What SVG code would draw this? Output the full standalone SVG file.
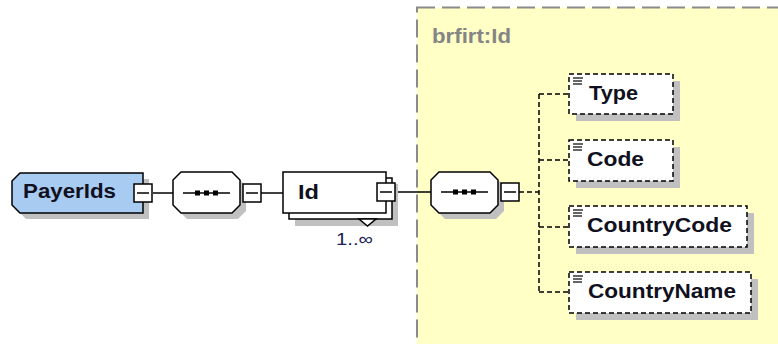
<svg xmlns="http://www.w3.org/2000/svg" width="778" height="344" viewBox="0 0 778 344">
<style>
.shadow{fill:#c0c0c0;stroke:none}
.solid{fill:#fff;stroke:#000;stroke-width:1.5}
.elem{fill:#fff;stroke:#000;stroke-width:1.5;stroke-dasharray:5 3}
.conn{fill:none;stroke:#000;stroke-width:1.5}
.dconn{fill:none;stroke:#000;stroke-width:1.5;stroke-dasharray:5 3}
.lbl{font-family:"Liberation Sans",Arial,sans-serif;font-weight:bold;font-size:20px;fill:#101020}
.icon{stroke:#000;stroke-width:1.2}
</style>
<defs>
<g id="minus"><rect x="0" y="0" width="18" height="18" fill="#fff" stroke="#000" stroke-width="1.5"/><line x1="3" y1="9" x2="15" y2="9" stroke="#000" stroke-width="1.5"/></g>
<g id="seqdots"><line x1="0" y1="0" x2="47" y2="0" stroke="#000" stroke-width="1.5"/><rect x="12" y="-2.5" width="5" height="5" fill="#000"/><rect x="21" y="-2.5" width="5" height="5" fill="#000"/><rect x="30" y="-2.5" width="5" height="5" fill="#000"/></g>
<g id="txticon"><line x1="0" y1="0" x2="10" y2="0" class="icon"/><line x1="0" y1="3" x2="9" y2="3" class="icon"/><line x1="0" y1="6" x2="9" y2="6" class="icon"/></g>
</defs>
<rect width="778" height="344" fill="#fff"/>
<g id="type-box">
<rect x="417" y="7.5" width="380" height="360" fill="#ffffc6" stroke="#8a8a8a" stroke-width="2" stroke-dasharray="18 7"/>
<text x="432" y="43" font-family="'Liberation Sans',Arial,sans-serif" font-weight="bold" font-size="20" fill="#858585" textLength="79" lengthAdjust="spacingAndGlyphs">brfirt:Id</text>
</g>
<g id="connectors">
<line x1="153" y1="193" x2="173" y2="193" class="conn"/>
<line x1="261" y1="193" x2="283" y2="193" class="conn"/>
<line x1="395" y1="192" x2="431" y2="192" class="conn"/>
<line x1="519" y1="192" x2="539" y2="192" class="dconn"/>
<line x1="539" y1="94" x2="539" y2="292" class="dconn"/>
<line x1="539" y1="94" x2="569" y2="94" class="dconn"/>
<line x1="539" y1="160" x2="569" y2="160" class="dconn"/>
<line x1="539" y1="227" x2="569" y2="227" class="dconn"/>
<line x1="539" y1="292" x2="569" y2="292" class="dconn"/>
</g>
<g id="PayerIds">
<polygon points="26,179 149,179 149,219 26,219 18,211 18,187" class="shadow"/>
<polygon points="20,173 143,173 143,213 20,213 12,205 12,181" fill="#a8cbf2" stroke="#000" stroke-width="1.5"/>
<text x="23" y="198" class="lbl" textLength="93" lengthAdjust="spacingAndGlyphs">PayerIds</text>
<use href="#minus" x="134" y="184"/>
</g>
<g id="sequence1">
<polygon points="187,178 238,178 246,186 246,211 238,219 187,219 179,211 179,186" class="shadow"/>
<polygon points="181,172 232,172 240,180 240,205 232,213 181,213 173,205 173,180" class="solid"/>
<use href="#seqdots" x="183" y="193"/>
<use href="#minus" x="243" y="184"/>
</g>
<g id="Id">
<rect x="295" y="184" width="103" height="42" class="shadow"/>
<rect x="289" y="178" width="103" height="41" class="solid"/>
<rect x="283" y="172" width="103" height="41" class="solid"/>
<polygon points="359,219 376,219 367.5,226" class="solid"/>
<text x="298" y="199" class="lbl" textLength="21" lengthAdjust="spacingAndGlyphs">Id</text>
<use href="#minus" x="377" y="183"/>
<text x="336" y="245" font-family="'Liberation Sans',Arial,sans-serif" font-size="17" fill="#202058" textLength="37" lengthAdjust="spacingAndGlyphs">1..∞</text>
</g>
<g id="sequence2">
<polygon points="445,178 496,178 504,186 504,211 496,219 445,219 437,211 437,186" class="shadow"/>
<polygon points="439,172 490,172 498,180 498,205 490,213 439,213 431,205 431,180" class="solid"/>
<use href="#seqdots" x="441" y="192"/>
<use href="#minus" x="501" y="183"/>
</g>
<g id="Type">
<rect x="576" y="81" width="104" height="40" class="shadow"/>
<rect x="569" y="74" width="104" height="40" class="elem"/>
<use href="#txticon" x="573" y="78"/>
<text x="589" y="100" class="lbl" textLength="49" lengthAdjust="spacingAndGlyphs">Type</text>
</g>
<g id="Code">
<rect x="576" y="147" width="104" height="41" class="shadow"/>
<rect x="569" y="140" width="104" height="41" class="elem"/>
<use href="#txticon" x="573" y="144"/>
<text x="587" y="166" class="lbl" textLength="57" lengthAdjust="spacingAndGlyphs">Code</text>
</g>
<g id="CountryCode">
<rect x="576" y="213" width="178" height="41" class="shadow"/>
<rect x="569" y="206" width="178" height="41" class="elem"/>
<use href="#txticon" x="573" y="210"/>
<text x="587" y="232" class="lbl" textLength="145" lengthAdjust="spacingAndGlyphs">CountryCode</text>
</g>
<g id="CountryName">
<rect x="576" y="279" width="182" height="41" class="shadow"/>
<rect x="569" y="272" width="182" height="41" class="elem"/>
<use href="#txticon" x="573" y="276"/>
<text x="588" y="298" class="lbl" textLength="148" lengthAdjust="spacingAndGlyphs">CountryName</text>
</g>
</svg>
